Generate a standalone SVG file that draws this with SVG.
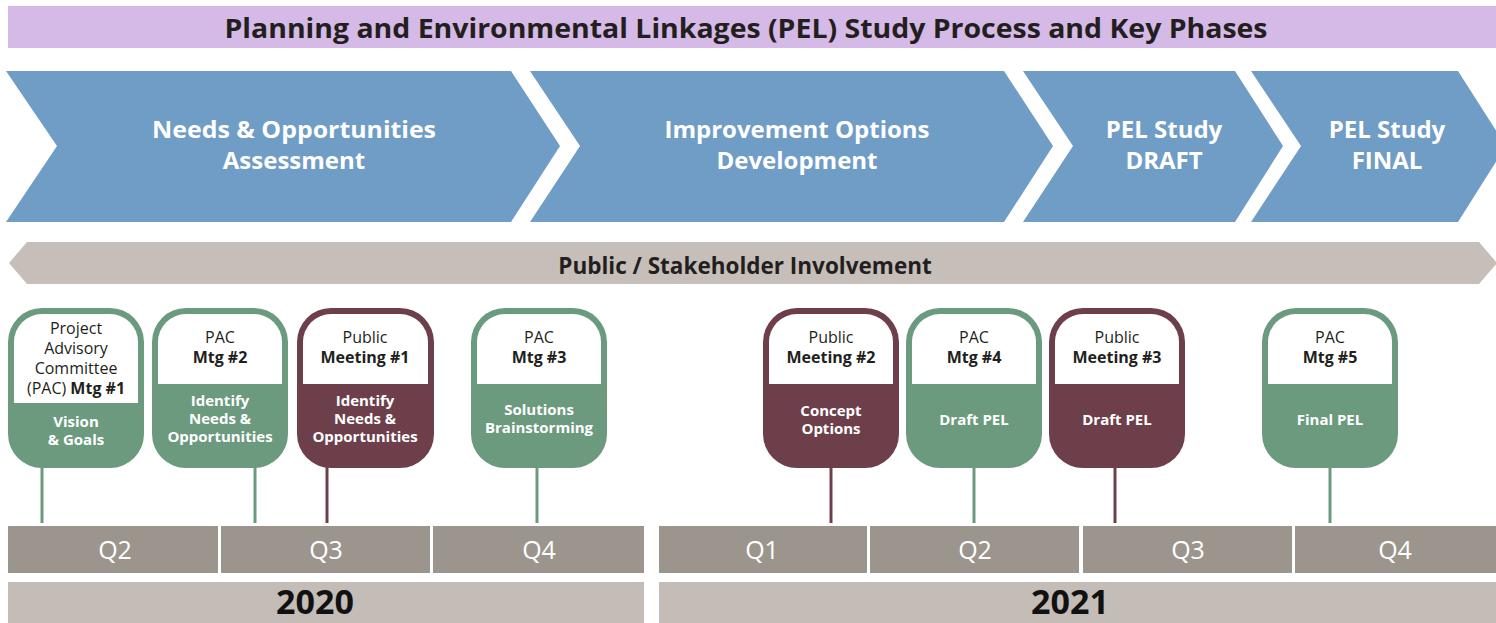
<svg xmlns="http://www.w3.org/2000/svg" width="1496" height="623" viewBox="0 0 1496 623">
<style>
text{font-family:"Open Sans","Noto Sans","DejaVu Sans",sans-serif}
.title{font-size:26px;font-weight:700;fill:#231f20}
.phase{font-size:24px;font-weight:700;fill:#ffffff}
.band{font-size:22.5px;font-weight:700;fill:#231f20}
.top{font-size:16px;fill:#231f20}
.topb{font-weight:700}
.bot{font-size:15px;font-weight:700;fill:#ffffff}
.q{font-size:25px;fill:#ffffff}
.yr{font-size:34px;font-weight:700;fill:#111111}
.chev{fill:#709dc6}
.g{fill:#6b9a7f}
.m{fill:#6d3f4b}
.w{fill:#ffffff}
.lg{stroke:#6b9a7f;stroke-width:3}
.lm{stroke:#6d3f4b;stroke-width:3}
.qc{fill:#9b958d}
.yc{fill:#c4bcb7}
</style>
<rect width="1496" height="623" fill="#ffffff"/>
<g id="title">
<rect x="8" y="6" width="1488" height="42" fill="#d5b9e6"/>
<text class="title" x="746" y="38" text-anchor="middle" textLength="1043" lengthAdjust="spacingAndGlyphs">Planning and Environmental Linkages (PEL) Study Process and Key Phases</text>
</g>
<g id="phase1">
<polygon class="chev" points="6,71 511,71 560,146 511,222 6,222 57,146"/>
<text class="phase" x="294" y="138" text-anchor="middle" textLength="284" lengthAdjust="spacingAndGlyphs">Needs &amp; Opportunities</text>
<text class="phase" x="294" y="169" text-anchor="middle">Assessment</text>
</g>
<g id="phase2">
<polygon class="chev" points="530,71 1004,71 1053,146 1004,222 530,222 580,146"/>
<text class="phase" x="797" y="138" text-anchor="middle">Improvement Options</text>
<text class="phase" x="797" y="169" text-anchor="middle">Development</text>
</g>
<g id="phase3">
<polygon class="chev" points="1023,71 1235,71 1283,146 1235,222 1023,222 1073,146"/>
<text class="phase" x="1164" y="138" text-anchor="middle">PEL Study</text>
<text class="phase" x="1164" y="169" text-anchor="middle">DRAFT</text>
</g>
<g id="phase4">
<polygon class="chev" points="1251,71 1458,71 1506,146 1458,222 1251,222 1301,146"/>
<text class="phase" x="1387" y="138" text-anchor="middle">PEL Study</text>
<text class="phase" x="1387" y="169" text-anchor="middle">FINAL</text>
</g>
<g id="involvement">
<polygon points="9,263 27,242 1479,242 1497,263 1479,284 27,284" fill="#c6beb9"/>
<text class="band" x="745" y="274" text-anchor="middle">Public / Stakeholder Involvement</text>
</g>
<g id="connectors">
<line class="lg" x1="42" y1="466" x2="42" y2="523"/>
<line class="lg" x1="255" y1="466" x2="255" y2="523"/>
<line class="lm" x1="327" y1="466" x2="327" y2="523"/>
<line class="lg" x1="537" y1="466" x2="537" y2="523"/>
<line class="lm" x1="831" y1="466" x2="831" y2="523"/>
<line class="lg" x1="974" y1="466" x2="974" y2="523"/>
<line class="lm" x1="1115" y1="466" x2="1115" y2="523"/>
<line class="lg" x1="1330" y1="466" x2="1330" y2="523"/>
</g>
<g id="pac1">
<rect class="g" x="8" y="308" width="136" height="160" rx="34"/>
<path class="w" d="M14,403 V342 A28,28 0 0 1 42,314 H110 A28,28 0 0 1 138,342 V403 Z"/>
<text class="top" x="76" y="334" text-anchor="middle">Project</text>
<text class="top" x="76" y="354" text-anchor="middle">Advisory</text>
<text class="top" x="76" y="374" text-anchor="middle">Committee</text>
<text class="top" x="76" y="394" text-anchor="middle">(PAC) <tspan class="topb">Mtg #1</tspan></text>
<text class="bot" x="76" y="427" text-anchor="middle">Vision</text>
<text class="bot" x="76" y="445" text-anchor="middle">&amp; Goals</text>
</g>
<g id="pac2">
<rect class="g" x="152" y="308" width="136" height="160" rx="34"/>
<path class="w" d="M158,384 V342 A28,28 0 0 1 186,314 H254 A28,28 0 0 1 282,342 V384 Z"/>
<text class="top" x="220" y="343" text-anchor="middle">PAC</text>
<text class="top topb" x="220" y="363" text-anchor="middle">Mtg #2</text>
<text class="bot" x="220" y="406" text-anchor="middle">Identify</text>
<text class="bot" x="220" y="424" text-anchor="middle">Needs &amp;</text>
<text class="bot" x="220" y="442" text-anchor="middle">Opportunities</text>
</g>
<g id="public1">
<rect class="m" x="297" y="308" width="137" height="160" rx="34"/>
<path class="w" d="M303,384 V342 A28,28 0 0 1 331,314 H400 A28,28 0 0 1 428,342 V384 Z"/>
<text class="top" x="365" y="343" text-anchor="middle">Public</text>
<text class="top topb" x="365" y="363" text-anchor="middle">Meeting #1</text>
<text class="bot" x="365" y="406" text-anchor="middle">Identify</text>
<text class="bot" x="365" y="424" text-anchor="middle">Needs &amp;</text>
<text class="bot" x="365" y="442" text-anchor="middle">Opportunities</text>
</g>
<g id="pac3">
<rect class="g" x="471" y="308" width="136" height="160" rx="34"/>
<path class="w" d="M477,384 V342 A28,28 0 0 1 505,314 H573 A28,28 0 0 1 601,342 V384 Z"/>
<text class="top" x="539" y="343" text-anchor="middle">PAC</text>
<text class="top topb" x="539" y="363" text-anchor="middle">Mtg #3</text>
<text class="bot" x="539" y="415" text-anchor="middle">Solutions</text>
<text class="bot" x="539" y="433" text-anchor="middle">Brainstorming</text>
</g>
<g id="public2">
<rect class="m" x="763" y="308" width="136" height="160" rx="34"/>
<path class="w" d="M769,384 V342 A28,28 0 0 1 797,314 H865 A28,28 0 0 1 893,342 V384 Z"/>
<text class="top" x="831" y="343" text-anchor="middle">Public</text>
<text class="top topb" x="831" y="363" text-anchor="middle">Meeting #2</text>
<text class="bot" x="831" y="416" text-anchor="middle">Concept</text>
<text class="bot" x="831" y="434" text-anchor="middle">Options</text>
</g>
<g id="pac4">
<rect class="g" x="906" y="308" width="136" height="160" rx="34"/>
<path class="w" d="M912,384 V342 A28,28 0 0 1 940,314 H1008 A28,28 0 0 1 1036,342 V384 Z"/>
<text class="top" x="974" y="343" text-anchor="middle">PAC</text>
<text class="top topb" x="974" y="363" text-anchor="middle">Mtg #4</text>
<text class="bot" x="974" y="425" text-anchor="middle">Draft PEL</text>
</g>
<g id="public3">
<rect class="m" x="1049" y="308" width="136" height="160" rx="34"/>
<path class="w" d="M1055,384 V342 A28,28 0 0 1 1083,314 H1151 A28,28 0 0 1 1179,342 V384 Z"/>
<text class="top" x="1117" y="343" text-anchor="middle">Public</text>
<text class="top topb" x="1117" y="363" text-anchor="middle">Meeting #3</text>
<text class="bot" x="1117" y="425" text-anchor="middle">Draft PEL</text>
</g>
<g id="pac5">
<rect class="g" x="1262" y="308" width="136" height="160" rx="34"/>
<path class="w" d="M1268,384 V342 A28,28 0 0 1 1296,314 H1364 A28,28 0 0 1 1392,342 V384 Z"/>
<text class="top" x="1330" y="343" text-anchor="middle">PAC</text>
<text class="top topb" x="1330" y="363" text-anchor="middle">Mtg #5</text>
<text class="bot" x="1330" y="425" text-anchor="middle">Final PEL</text>
</g>
<g id="quarters">
<rect class="qc" x="8" y="526" width="210" height="47"/>
<rect class="qc" x="221" y="526" width="209" height="47"/>
<rect class="qc" x="433" y="526" width="211" height="47"/>
<rect class="qc" x="659" y="526" width="208" height="47"/>
<rect class="qc" x="870" y="526" width="209" height="47"/>
<rect class="qc" x="1083" y="526" width="209" height="47"/>
<rect class="qc" x="1295" y="526" width="201" height="47"/>
<text class="q" x="115" y="559" text-anchor="middle">Q2</text>
<text class="q" x="326" y="559" text-anchor="middle">Q3</text>
<text class="q" x="539" y="559" text-anchor="middle">Q4</text>
<text class="q" x="762" y="559" text-anchor="middle">Q1</text>
<text class="q" x="975" y="559" text-anchor="middle">Q2</text>
<text class="q" x="1188" y="559" text-anchor="middle">Q3</text>
<text class="q" x="1395" y="559" text-anchor="middle">Q4</text>
</g>
<g id="years">
<rect class="yc" x="8" y="582" width="636" height="41"/>
<rect class="yc" x="659" y="582" width="837" height="41"/>
<text class="yr" x="315" y="614" text-anchor="middle">2020</text>
<text class="yr" x="1070" y="614" text-anchor="middle">2021</text>
</g>
</svg>
